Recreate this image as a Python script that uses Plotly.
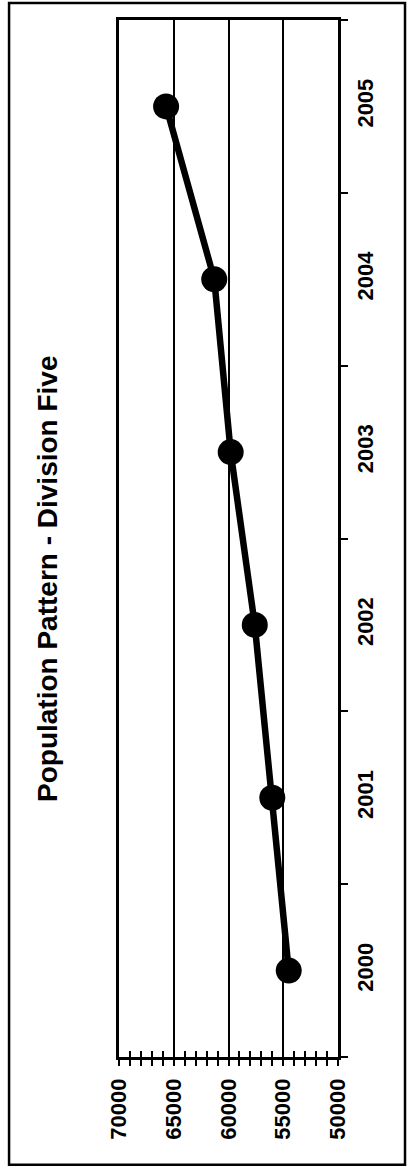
import plotly.graph_objects as go

years = ["2000", "2001", "2002", "2003", "2004", "2005"]
population = [54500, 56000, 57600, 59800, 61300, 65700]
pop_ticks = [50000, 55000, 60000, 65000, 70000]
pop_labels = ["50000", "55000", "60000", "65000", "70000"]
title_text = "Population Pattern - Division Five"

FONT = "Liberation Sans, Arial, sans-serif"

fig = go.Figure()
fig.add_trace(go.Scatter(
    x=population, y=years, mode="lines+markers",
    line=dict(color="black", width=6.5),
    marker=dict(color="black", size=26),
    showlegend=False, hoverinfo="skip",
))
# helper trace to carry the overlay axis (cross ticks)
fig.add_trace(go.Scatter(
    x=population, y=years, xaxis="x2", mode="markers",
    marker=dict(opacity=0), showlegend=False, hoverinfo="skip",
))

tickfont = dict(family=FONT, size=22, color="black", weight="bold")

fig.update_layout(
    width=415, height=1170,
    margin=dict(l=119, r=77, t=20, b=113),
    paper_bgcolor="white", plot_bgcolor="white",
    xaxis=dict(
        automargin=False,
        range=[70000, 50000], tickvals=pop_ticks, ticktext=pop_labels,
        tickangle=-90, tickfont=tickfont,
        showgrid=True, gridcolor="black", gridwidth=2,
        zeroline=False,
        showline=True, linecolor="black", linewidth=2.5, mirror=True,
        ticks="outside", ticklen=6, tickwidth=2, tickcolor="black",
        minor=dict(dtick=1000, ticks="outside", ticklen=6, tickwidth=2,
                   tickcolor="black", showgrid=False),
        ticklabelstandoff=4,
    ),
    xaxis2=dict(
        automargin=False,
        overlaying="x", side="bottom", anchor="y",
        range=[70000, 50000], tickvals=pop_ticks, showticklabels=False,
        showgrid=False, zeroline=False, showline=False,
        ticks="inside", ticklen=6, tickwidth=2, tickcolor="black",
        minor=dict(dtick=1000, ticks="inside", ticklen=6, tickwidth=2,
                   tickcolor="black", showgrid=False),
    ),
    yaxis=dict(
        automargin=False,
        type="category", categoryorder="array", categoryarray=years,
        side="right", tickangle=-90, tickfont=tickfont,
        showgrid=False, zeroline=False,
        showline=True, linecolor="black", linewidth=2.5, mirror=True,
        ticks="outside", tickson="boundaries", ticklen=7, tickwidth=2,
        tickcolor="black", ticklabelstandoff=6,
        range=[-0.5, 5.5],
    ),
    annotations=[dict(
        text=title_text, textangle=-90, showarrow=False,
        xref="paper", yref="paper", x=-0.324, y=0.461,
        xanchor="center", yanchor="middle",
        font=dict(family=FONT, size=28, color="black", weight="bold"),
    )],
    shapes=[dict(
        type="rect", xref="paper", yref="paper",
        x0=-0.502, x1=1.306, y0=-0.104, y1=1.0164,
        line=dict(color="black", width=2.5),
    )],
)

fig.write_html(
    "out.html",
    config={"displayModeBar": False},
    post_script="document.body.style.margin='0';document.body.style.overflow='hidden';",
)
